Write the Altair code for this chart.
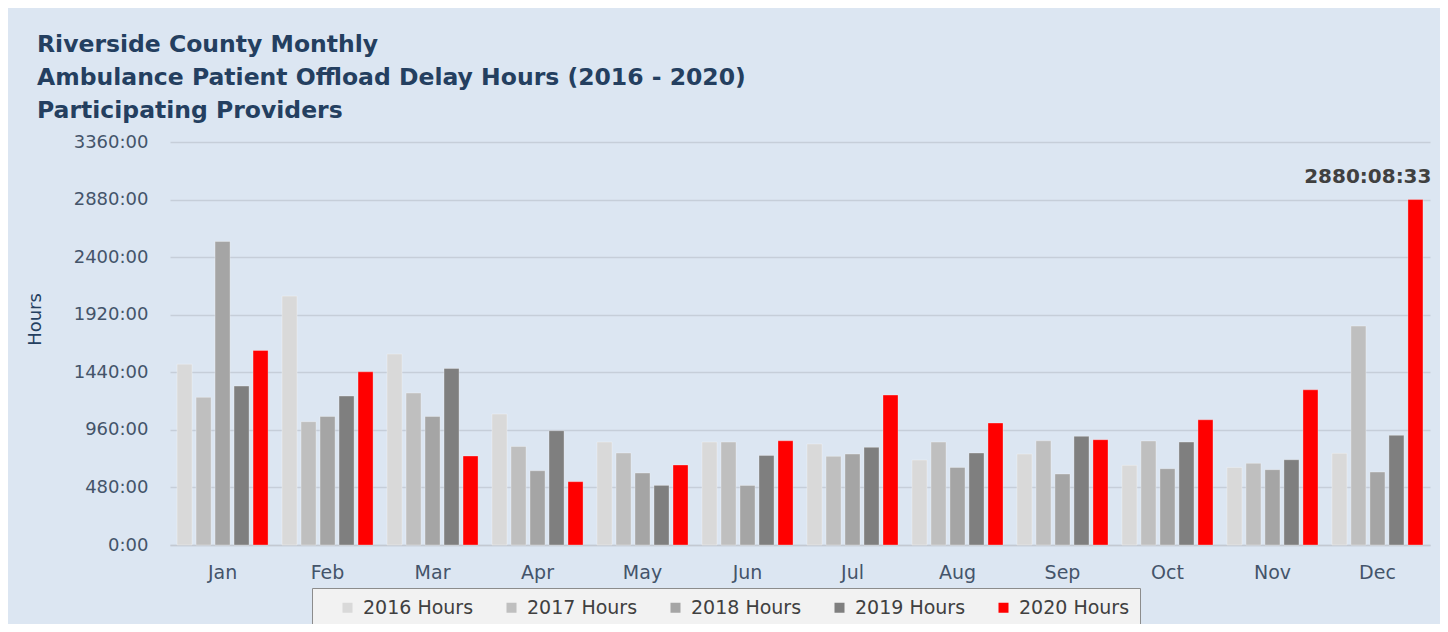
import altair as alt
import pandas as pd

months = ["Jan", "Feb", "Mar", "Apr", "May", "Jun", "Jul", "Aug", "Sep", "Oct", "Nov", "Dec"]
series = ["2016 Hours", "2017 Hours", "2018 Hours", "2019 Hours", "2020 Hours"]
h2016 = [1508, 2075, 1592, 1092, 858, 858, 842, 708, 758, 664, 647, 764]
h2017 = [1231, 1028, 1267, 822, 767, 858, 739, 858, 869, 867, 681, 1825]
h2018 = [2531, 1072, 1072, 619, 600, 497, 758, 647, 592, 636, 628, 608]
h2019 = [1325, 1242, 1472, 953, 497, 747, 814, 767, 906, 858, 711, 914]
h2020 = [1622, 1444, 742, 528, 667, 869, 1250, 1017, 878, 1044, 1294, 2880.1425]
colors = ["#d9d9d9", "#bfbfbf", "#a5a5a5", "#7f7f7f", "#ff0000"]
y_ticks = [0, 480, 960, 1440, 1920, 2400, 2880, 3360]
title_lines = [
    "Riverside County Monthly",
    "Ambulance Patient Offload Delay Hours (2016 - 2020)",
    "Participating Providers",
]
ann_month = ["Dec"]
ann_series = ["2020 Hours"]
ann_value = [2880.1425]
ann_label = ["2880:08:33"]

rows = []
for s, vals in zip(series, [h2016, h2017, h2018, h2019, h2020]):
    for m, v in zip(months, vals):
        rows.append({"month": m, "series": s, "hours": v})
df = pd.DataFrame(rows)
ann = pd.DataFrame({"month": ann_month, "series": ann_series, "hours": ann_value, "label": ann_label})

FONT = "DejaVu Sans"

x_enc = alt.X(
    "month:N",
    scale=alt.Scale(domain=months, paddingInner=0.133, paddingOuter=0.067),
    axis=alt.Axis(
        title=None, labelAngle=0, ticks=False, grid=False,
        domainColor="#c3c9d2", domainWidth=1.5,
        labelFont=FONT, labelFontSize=19, labelColor="#44546a", labelPadding=18,
    ),
)
xo_enc = alt.XOffset(
    "series:N", scale=alt.Scale(domain=series, paddingInner=0.21, paddingOuter=0)
)
y_enc = alt.Y(
    "hours:Q",
    scale=alt.Scale(domain=[0, 3360], nice=False),
    axis=alt.Axis(
        values=y_ticks, labelExpr="datum.value + ':00'",
        title="Hours", titleFont=FONT, titleFontSize=18, titleFontWeight="normal",
        titleColor="#243f60", titleAngle=270, titleX=-135, titleY=177,
        titleAlign="center", titleBaseline="middle",
        domain=False, ticks=False, labelPadding=22,
        labelFont=FONT, labelFontSize=18, labelColor="#44546a",
        gridColor="#c6ced9", gridWidth=1.5,
    ),
)

bars = alt.Chart(df).mark_bar(stroke="white", strokeOpacity=0.3, strokeWidth=1).encode(
    x=x_enc,
    xOffset=xo_enc,
    y=y_enc,
    color=alt.Color(
        "series:N",
        scale=alt.Scale(domain=series, range=colors),
        legend=alt.Legend(
            orient="none", legendX=142, legendY=446, direction="horizontal", columns=5,
            fillColor="#f2f2f2", strokeColor="#8c8c8c", padding=10,
            symbolType="square", symbolSize=100, symbolStrokeWidth=0,
            labelFont=FONT, labelFontSize=19, labelColor="#404040",
            columnPadding=28, labelOffset=6,
            title=" ", titleOrient="left", titlePadding=16,
        ),
    ),
)

text = alt.Chart(ann).mark_text(
    font=FONT, fontWeight="bold", fontSize=20, color="#404040",
    align="right", baseline="alphabetic", dx=16, dy=-17,
).encode(
    x=alt.X("month:N", scale=alt.Scale(domain=months)),
    xOffset=alt.XOffset("series:N", scale=alt.Scale(domain=series)),
    y=alt.Y("hours:Q"),
    text="label:N",
)

chart = alt.layer(bars, text).properties(
    width=1260,
    height=403,
    background="#dce6f2",
    padding={"left": 162, "top": 134, "right": 10, "bottom": 79},
    autosize=alt.AutoSizeParams(type="none"),
    title=alt.TitleParams(
        text=title_lines, anchor="start", frame="group", dx=-133,
        font=FONT, fontSize=23.5, fontWeight="bold", color="#243f60",
        lineHeight=33, baseline="top", offset=11,
    ),
).configure_view(stroke="transparent")

chart.save("out.html", embed_options={"renderer": "svg", "actions": False})
